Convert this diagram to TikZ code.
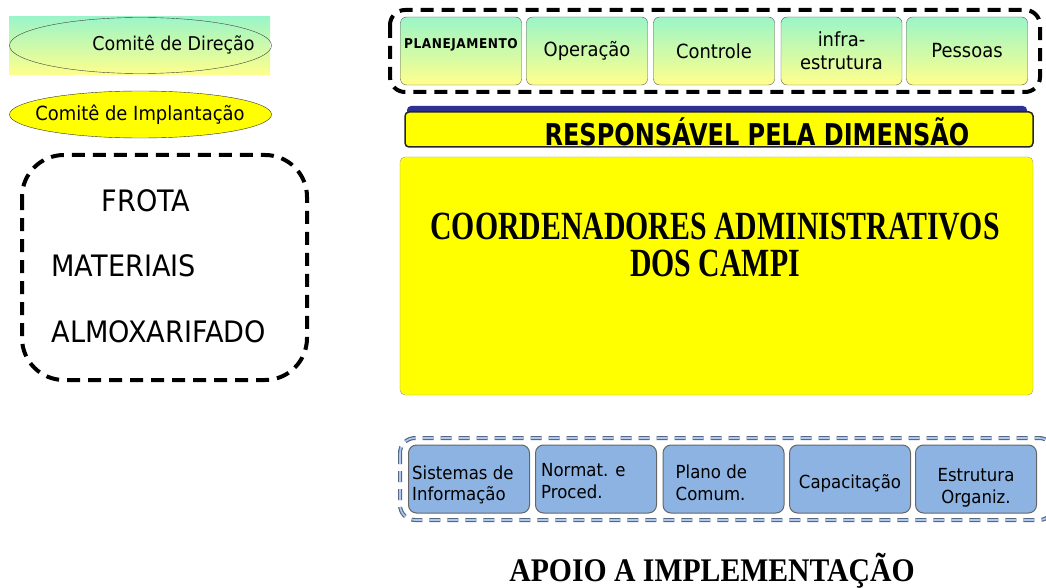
\documentclass[tikz,border=0pt]{standalone}
\usepackage{fontspec}
\usetikzlibrary{shapes.geometric}
\newfontfamily\tah[FakeStretch=0.92]{DejaVu Sans}
\newfontfamily\tahsp[FakeStretch=0.9,LetterSpace=4]{DejaVu Sans}
\newfontfamily\tahc[FakeStretch=0.8]{DejaVu Sans}
\newfontfamily\tnr[FakeStretch=0.745]{Liberation Serif}
\newfontfamily\tnrw[FakeStretch=0.9]{Liberation Serif}
\definecolor{mint}{RGB}{155,245,200}
\definecolor{paleyel}{RGB}{255,255,140}
\definecolor{pureyel}{RGB}{255,255,0}
\definecolor{skyb}{RGB}{141,179,226}
\definecolor{navyb}{RGB}{46,49,146}
\definecolor{dashb}{RGB}{85,105,135}
\definecolor{dashl}{RGB}{175,200,235}
\tikzset{
  dimbox/.style={draw=black!65, rounded corners=6pt, top color=mint, bottom color=paleyel,
    minimum width=121pt, minimum height=68pt, inner sep=1pt, align=center,
    font=\tah\fontsize{19.5}{23}\selectfont},
  apoiobox/.style={draw=black!60, line width=1pt, fill=skyb, rounded corners=8pt,
    minimum width=121pt, minimum height=68pt},
  apoiotxt/.style={font=\tah\fontsize{18}{21.5}\selectfont, align=left, inner sep=0pt},
  frame/.style={line width=4pt, dash pattern=on 13pt off 8pt}
}
\begin{document}
\begin{tikzpicture}[x=1pt, y=-1pt]
    \useasboundingbox (0,0) rectangle (1046,588);
    % comites
    \shade[top color=mint, bottom color=paleyel] (9,17) rectangle (270,75);
    \node[ellipse, draw=black!75, minimum width=262pt, minimum height=56pt] (dir) at (140.5,45.5) {};
    \node[font=\tah\fontsize{19}{21}\selectfont] (dirtxt) at (173.5,45) {Comitê de Direção};
    \node[ellipse, draw=black!80, fill=pureyel, minimum width=262pt, minimum height=47pt, inner sep=0pt] (impl) at (140.5,114.5) {};
    \node[font=\tah\fontsize{19.5}{21}\selectfont] (impltxt) at (140,115) {Comitê de Implantação};

    \draw[frame, rounded corners=42pt] (22,155) rectangle (307,380);
    \node[font=\tah\fontsize{29.5}{31}\selectfont, anchor=west] (frota) at (98,201) {FROTA};
    \node[font=\tah\fontsize{29.5}{31}\selectfont, anchor=west] (mat) at (48,266) {MATERIAIS};
    \node[font=\tah\fontsize{29.5}{31}\selectfont, anchor=west] (almox) at (48,332) {ALMOXARIFADO};

    % dimensoes
    \draw[frame, rounded corners=15pt] (390,10) rectangle (1040,92);
    \node[dimbox] (plan) at (461,51) {};
    \node[font=\tahsp\bfseries\fontsize{13.5}{15}\selectfont] (plantxt) at ([yshift=6pt]plan.center) {PLANEJAMENTO};
    \node[dimbox] (oper) at (587,51) {Operação};
    \node[dimbox] (ctrl) at (714,51) {Controle};
    \node[dimbox] (infra) at (841.5,51) {infra-\\estrutura};
    \node[dimbox] (pess) at (967,51) {Pessoas};

    \fill[navyb, rounded corners=4pt] (407,106) rectangle (1027,135);
    \draw[black!85, line width=1.5pt, fill=pureyel, rounded corners=4pt] (405,112) rectangle (1033,147);
    \node[font=\tahc\bfseries\fontsize{30}{32}\selectfont] (resp) at (757,132) {RESPONSÁVEL PELA DIMENSÃO};

    \draw[black!40, fill=pureyel, rounded corners=5pt] (400,157) rectangle (1033,395);
    \node[font=\tnr\bfseries\fontsize{40}{37}\selectfont, align=center] (coord) at (715,245)
        {COORDENADORES ADMINISTRATIVOS\\DOS CAMPI};

    % apoio
    \draw[dashb, line width=4pt, dash pattern=on 11pt off 7pt, rounded corners=15pt] (400,438) rectangle (1054,520);
    \draw[dashl, line width=1.6pt, dash pattern=on 11pt off 7pt, rounded corners=15pt] (400,438) rectangle (1054,520);
    \node[apoiobox] (sis) at (469,479) {};
    \node[apoiobox] (norm) at (596,479) {};
    \node[apoiobox] (plano) at (723.5,479) {};
    \node[apoiobox] (capac) at (850,479) {};
    \node[apoiobox] (estr) at (976,479) {};
    \node[apoiotxt, anchor=west] (sistxt) at ([xshift=4pt,yshift=-6pt]sis.west) {Sistemas de\\Informação};
    \node[apoiotxt, anchor=west] (normtxt) at ([xshift=6pt,yshift=-2pt]norm.west) {Normat. e\\Proced.};
    \node[apoiotxt, anchor=west] (planotxt) at ([xshift=13pt,yshift=-4pt]plano.west) {Plano de\\Comum.};
    \node[apoiotxt] (capactxt) at ([yshift=-4pt]capac.center) {Capacitação};
    \node[apoiotxt, align=center] (estrtxt) at ([yshift=-9pt]estr.center) {Estrutura\\Organiz.};

    \node[font=\tnrw\bfseries\fontsize{33}{35}\selectfont] (apoio) at (712,571) {APOIO A IMPLEMENTAÇÃO};
\end{tikzpicture}
\end{document}
